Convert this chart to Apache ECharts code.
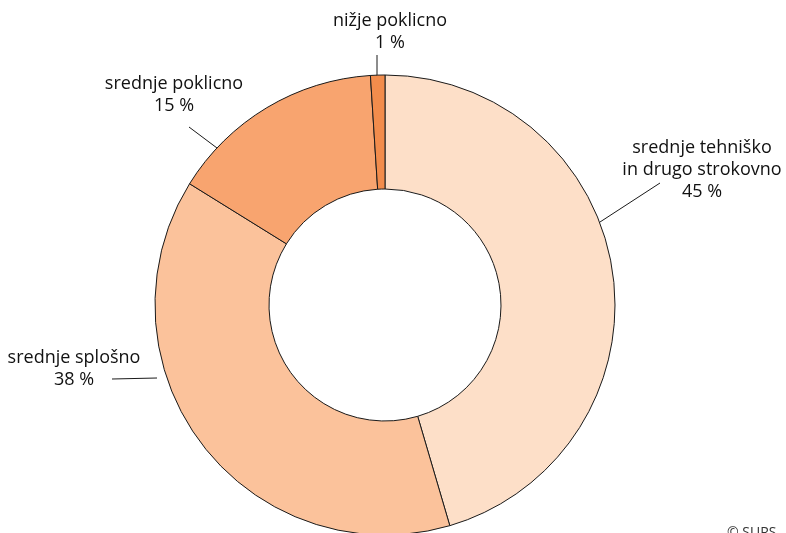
<!DOCTYPE html>
<html>
<head>
<meta charset="utf-8">
<script src="https://cdn.jsdelivr.net/npm/echarts@6/dist/echarts.min.js"></script>
<style>
html,body{margin:0;padding:0;background:#fff;}
#chart{width:786px;height:533px;}
</style>
</head>
<body>
<div id="chart"></div>
<script>
const categories = ['srednje tehniško\nin drugo strokovno', 'srednje splošno', 'srednje poklicno', 'nižje poklicno'];
const values = [45, 38, 15, 1];
const colors = ['#FDDFC8', '#FBC29B', '#F8A46F', '#F28C4C'];

// label placement (layout, not data): text block centre and leader line end points
const labelLayouts = [
  {x: 702, y: 170, line: [[600, 222], [660, 183]]},
  {x: 74,  y: 369, line: [[157, 378], [112, 379]]},
  {x: 174, y: 95,  line: [[217, 148], [189, 127]]},
  {x: 390, y: 32,  line: [[377, 76], [377, 55]]}
];

const chart = echarts.init(document.getElementById('chart'), null, {renderer: 'canvas'});
chart.setOption({
  backgroundColor: '#ffffff',
  animation: false,
  series: [{
    type: 'pie',
    center: [385, 305],
    radius: [116, 230],
    startAngle: 90,
    clockwise: true,
    avoidLabelOverlap: false,
    data: categories.map((c, i) => ({name: c, value: values[i], itemStyle: {color: colors[i]}})),
    itemStyle: {borderColor: '#1a1a1a', borderWidth: 1},
    label: {
      show: true,
      formatter: p => p.name + '\n' + Math.round(p.value) + ' %',
      fontFamily: 'Open Sans',
      fontSize: 18,
      lineHeight: 22,
      color: '#111',
      align: 'center'
    },
    labelLine: {show: true, length: 20, length2: 0, lineStyle: {color: '#1a1a1a', width: 1}},
    labelLayout: function (params) {
      const l = labelLayouts[params.dataIndex];
      return {x: l.x, y: l.y, align: 'center', verticalAlign: 'middle', labelLinePoints: l.line};
    },
    emphasis: {disabled: true}
  }],
  graphic: [{
    type: 'text',
    left: 727,
    top: 526,
    style: {text: '© SURS', fontFamily: 'Open Sans', fontSize: 14, fill: '#333'}
  }]
});
</script>
</body>
</html>
